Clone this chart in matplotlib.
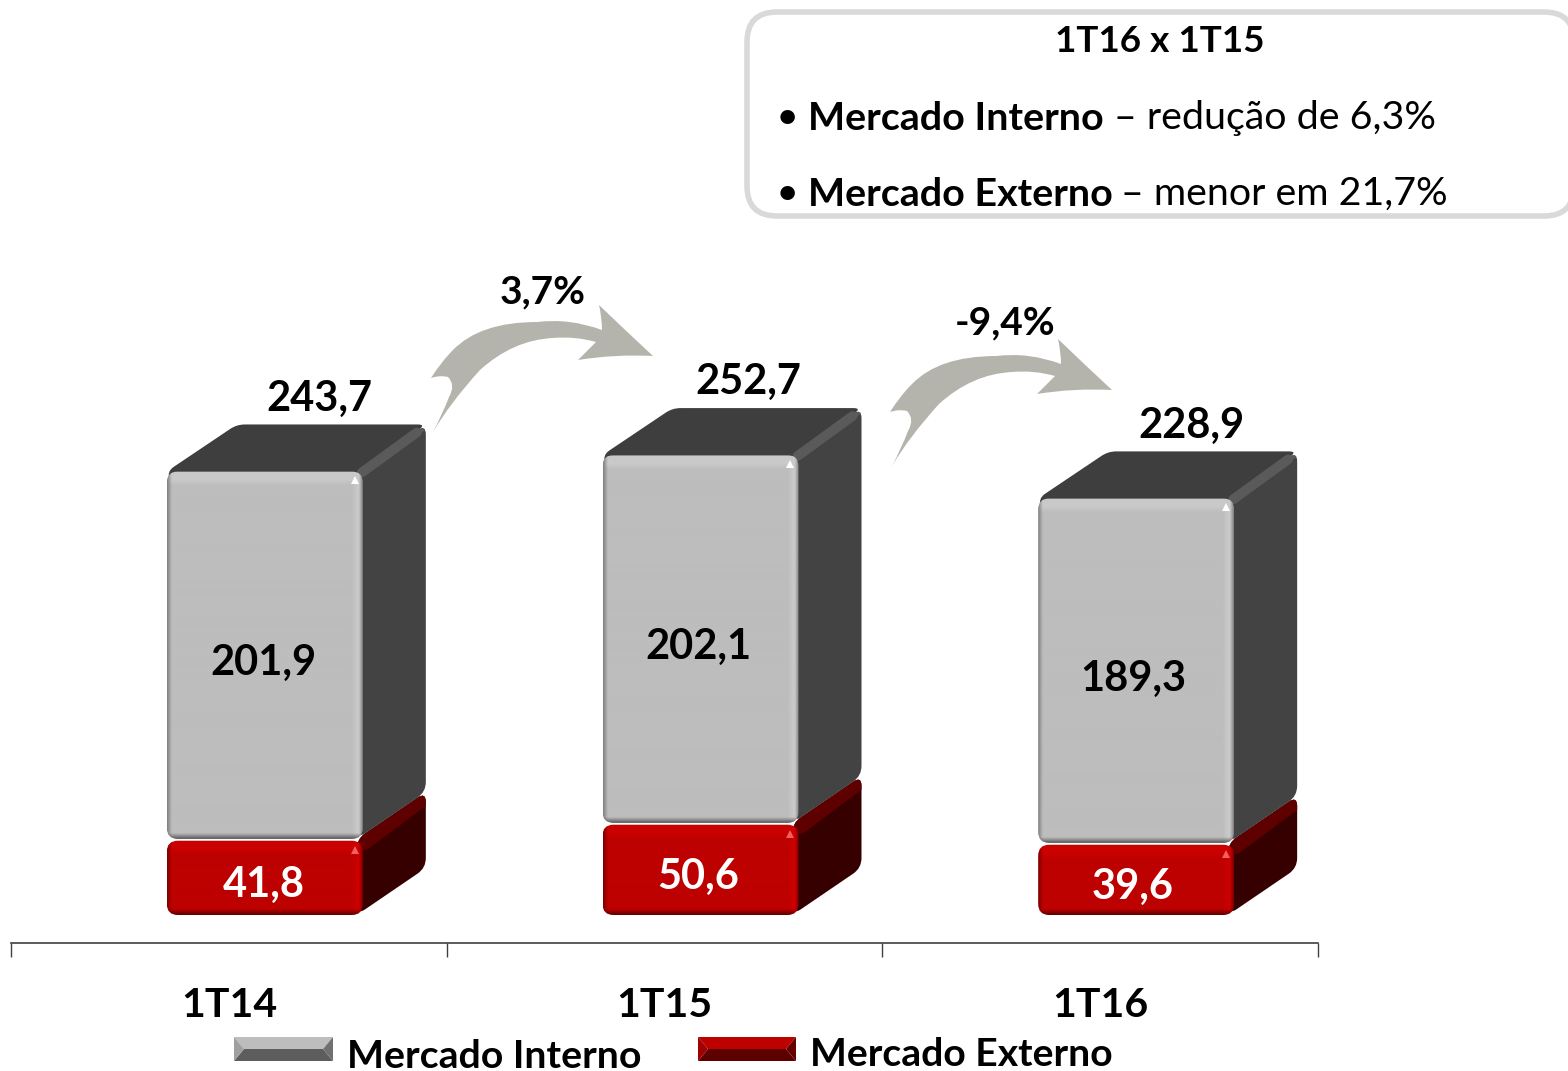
import numpy as np
import matplotlib
matplotlib.use("Agg")
import matplotlib.pyplot as plt
from matplotlib.path import Path
from matplotlib.patches import PathPatch, Polygon, FancyBboxPatch
from matplotlib.transforms import Affine2D

categories = ["1T14", "1T15", "1T16"]
interno = [201.9, 202.1, 189.3]
externo = [41.8, 50.6, 39.6]
totais = [243.7, 252.7, 228.9]
interno_lab = ["201,9", "202,1", "189,3"]
externo_lab = ["41,8", "50,6", "39,6"]
totais_lab = ["243,7", "252,7", "228,9"]
var_lab = ["3,7%", "-9,4%"]
serie_names = ["Mercado Interno", "Mercado Externo"]

W, H = 1568, 1071
PXX, PXY = 435.67, 1.82          # px per category / px per value
plt.rcParams["font.family"] = ["Lato", "DejaVu Sans"]
fig = plt.figure(figsize=(W / 100, H / 100), dpi=100, facecolor="white")
ax = fig.add_axes([11 / W, 1 - 943 / H, (1318 - 11) / W, 943 / H])
ax.patch.set_alpha(0)

BAR_W, BAR_OFF = 196 / PXX, -62 / PXX
DX, DY = 63 / PXX, 47 / PXY
TOT_X = [153, 146, 153]
SEG_DX = [-1, -2, -3]


def rounded(verts, r):
    """closed path with rounded corners; r in px"""
    v = np.array(verts, float) * [PXX, PXY]
    n = len(v)
    codes, out = [], []
    for i in range(n):
        p, a, b = v[i], v[i - 1], v[(i + 1) % n]
        ua = (a - p) / np.linalg.norm(a - p)
        ub = (b - p) / np.linalg.norm(b - p)
        out += [p + ua * r, p, p + ub * r]
        codes += [Path.MOVETO if i == 0 else Path.LINETO, Path.CURVE3, Path.CURVE3]
    out.append(out[0])
    codes.append(Path.CLOSEPOLY)
    return Path(np.array(out) / [PXX, PXY], codes)


def mix(a, b, t):
    t = np.clip(t, 0, 1)[..., None]
    return np.array(a) * (1 - t) + np.array(b) * t


def hexc(s):
    return np.array(matplotlib.colors.to_rgb(s))


def front(x0, y0, y1, base, band, edge, edge2, hi, z):
    w, h = int(BAR_W * PXX), max(int((y1 - y0) * PXY), 2)
    yy, xx = np.mgrid[0:h, 0:w] + 0.5
    img = np.ones((h, w, 3)) * hexc(base)
    img = mix(img, hexc(band), (14 - yy) / 5)
    img = mix(img, hexc(band), (11 - (w - xx)) / 5)
    img = mix(img, hexc(edge), (5 - xx) / 5)
    img = mix(img, hexc(edge), (4 - (w - xx)) / 4)
    img = mix(img, hexc(edge2), (6 - (h - yy)) / 6)
    img = mix(img, hexc(edge), (1.5 - yy) / 1.5)
    im = ax.imshow(img, extent=(x0, x0 + BAR_W, y0, y1), origin="upper",
                   aspect="auto", zorder=z, interpolation="bilinear")
    clip = PathPatch(rounded([(x0, y0), (x0 + BAR_W, y0), (x0 + BAR_W, y1), (x0, y1)], 11),
                     transform=ax.transData, fc="none", ec="none")
    ax.add_patch(clip)
    im.set_clip_path(clip)
    ax.plot([x0 + BAR_W - 8 / PXX], [y1 - 9 / PXY], marker="^", ms=6, mew=0,
            color=hi, zorder=z + 0.1)


def side(x1, y0, y1, col, ridge, lw, z):
    p = PathPatch(rounded([(x1 - 6 / PXX, y0), (x1 + DX, y0 + DY), (x1 + DX, y1 + DY),
                           (x1 - 6 / PXX, y1)], 10), fc=col, ec="none", zorder=z)
    ax.add_patch(p)
    ln, = ax.plot([x1, x1 + DX], [y1, y1 + DY], color=ridge, lw=lw, zorder=z + 0.1,
                  solid_capstyle="round")
    ln.set_clip_path(p)


for i in range(len(categories)):
    x0 = i + BAR_OFF
    x1 = x0 + BAR_W
    e, t = externo[i], externo[i] + interno[i]
    z = 2 + i * 5
    side(x1, 0, e, "#370000", "#5f0000", 16, z)
    front(x0, 0, e - 1, "#bd0000", "#cb0000", "#7a0000", "#5c0000", "#f06060", z + 0.5)
    side(x1, e, t, "#434343", "#5a5a5a", 6, z + 1)
    ax.add_patch(PathPatch(rounded([(x0 + 4 / PXX, t - 12 / PXY), (x1, t - 12 / PXY), (x1, t),
                                    (x1 + DX, t + DY), (x0 + DX + 7 / PXX, t + DY),
                                    (x0, t)], 8),
                           fc="#3e3e3e", ec="none", zorder=z + 1.05))
    ln, = ax.plot([x1 - 1 / PXX, x1 + DX - 9 / PXX], [t - 1 / PXY, t + DY - 8 / PXY],
                  color="#5a5a5a", lw=7, zorder=z + 1.2, solid_capstyle="round")
    front(x0, e, t, "#bdbdbd", "#c9c9c9", "#7d7d7d", "#555555", "#ffffff", z + 2)

    cx = x0 + BAR_W / 2 + SEG_DX[i] / PXX
    ax.text(cx, e + interno[i] / 2 - 4.3, interno_lab[i], ha="center", va="center",
            fontsize=30, fontweight="bold", color="black", zorder=40)
    ax.text(cx, e / 2 - 4.6, externo_lab[i], ha="center", va="center",
            fontsize=30, fontweight="bold", color="white", zorder=40)
    ax.text(x0 + TOT_X[i] / PXX, t + 40, totais_lab[i], ha="center", va="center",
            fontsize=30, fontweight="bold", color="black", zorder=40)

# category axis
ax.set_xlim(-0.5, 2.5)
ax.set_ylim(-28 / PXY, 915 / PXY)
for s in ("top", "left", "right"):
    ax.spines[s].set_visible(False)
ax.spines["bottom"].set_color("#404040")
ax.spines["bottom"].set_linewidth(1.2)
ax.set_yticks([])
ax.set_xticks([-0.5, 0.5, 1.5, 2.5])
ax.set_xticklabels([])
ax.tick_params(axis="x", which="major", length=10, width=1, color="#404040")
ax.set_xticks(range(3), minor=True)
ax.set_xticklabels(categories, minor=True, fontsize=29.5, fontweight="bold")
ax.tick_params(axis="x", which="minor", length=0, pad=32)

# overlay in pixel coordinates (y down)
ov = fig.add_axes([0, 0, 1, 1])
ov.set_xlim(0, W)
ov.set_ylim(H, 0)
ov.axis("off")
ov.patch.set_alpha(0)

# growth arrows
M, L, C = Path.MOVETO, Path.LINETO, Path.CURVE3
arrow_v = [(433, 432), (450, 403), (480, 370), (513, 340), (553, 338), (575, 336), (596, 342),
           (578, 360), (615, 354), (653, 356), (625, 330), (599, 305), (602, 318), (602, 330),
           (570, 318), (537, 322), (480, 322), (453, 350), (441, 362), (431, 378),
           (440, 375), (448, 377), (456, 385), (449, 397), (443, 413), (433, 432)]
arrow_c = [M, C, C, C, C, C, C, L, C, C, C, C, C, C, C, C, C, C, C, C, C, C, C, C, C, C]
for off in [(0, 0), (459, 34)]:
    pth = Path(arrow_v, arrow_c).transformed(Affine2D().translate(*off))
    ov.add_patch(PathPatch(pth, fc="#b5b4ac", ec="none"))
ov.text(543, 292, var_lab[0], ha="center", va="center", fontsize=28, fontweight="bold")
ov.text(1005, 323, var_lab[1], ha="center", va="center", fontsize=28, fontweight="bold")

# callout
ov.add_patch(FancyBboxPatch((747, 12), 827, 204, boxstyle="round,pad=0,rounding_size=30",
                            fc="white", ec="#d9d9d9", lw=4, clip_on=True))
ov.text(1160, 41, "1T16 x 1T15", ha="center", va="center", fontsize=26.6, fontweight="bold")
ov.text(787, 118, "•", ha="center", va="center", fontsize=24, fontweight="bold")
ov.text(787, 194, "•", ha="center", va="center", fontsize=24, fontweight="bold")
ov.text(808, 118, serie_names[0], ha="left", va="center", fontsize=28.4, fontweight="bold")
ov.text(808, 194, serie_names[1], ha="left", va="center", fontsize=28.4, fontweight="bold")
ov.text(1114, 118, "– redução de 6,3%", ha="left", va="center", fontsize=28.4)
ov.text(1121, 194, "– menor em 21,7%", ha="left", va="center", fontsize=28.4)


# legend
def swatch(x0, y0, x1, y1, top, bot, left, right):
    b = 10
    cy = (y0 + y1) / 2
    ov.add_patch(Polygon([(x0, y0), (x1, y0), (x1 - b, cy), (x0 + b, cy)], fc=top, ec="none"))
    ov.add_patch(Polygon([(x0, y1), (x1, y1), (x1 - b, cy), (x0 + b, cy)], fc=bot, ec="none"))
    ov.add_patch(Polygon([(x0, y0), (x0 + b, cy), (x0, y1)], fc=left, ec="none"))
    ov.add_patch(Polygon([(x1, y0), (x1 - b, cy), (x1, y1)], fc=right, ec="none"))


swatch(234, 1037, 333, 1061, "#bdbdbd", "#5d5d5d", "#9f9f9f", "#707070")
swatch(698, 1037, 796, 1061, "#bf0000", "#5c0000", "#a00000", "#640000")
ov.text(347, 1056, serie_names[0], ha="left", va="center", fontsize=28.3, fontweight="bold")
ov.text(810, 1054, serie_names[1], ha="left", va="center", fontsize=28.2, fontweight="bold")

fig.savefig("out.png", dpi=100, facecolor="white")
